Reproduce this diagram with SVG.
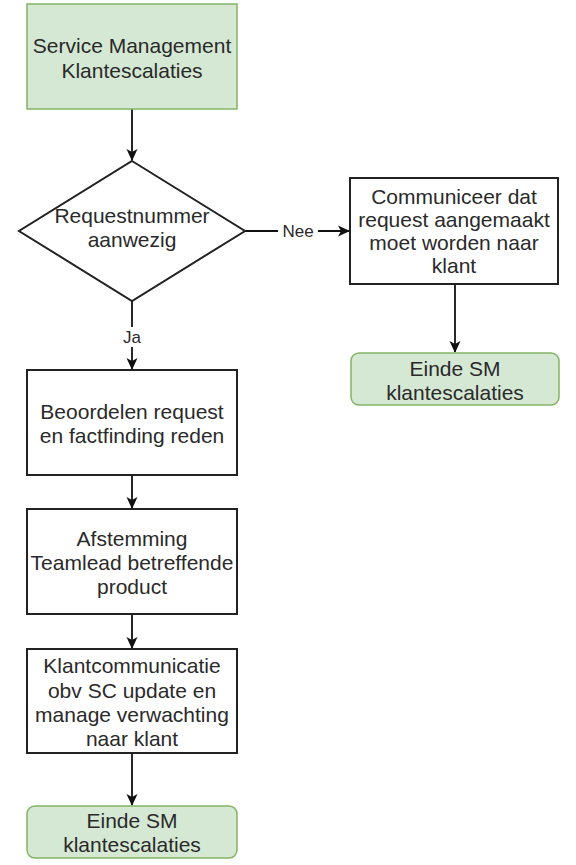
<svg xmlns="http://www.w3.org/2000/svg" width="576" height="865" viewBox="0 0 576 865">
  <defs>
    <marker id="arrow" viewBox="0 0 12 12" refX="11" refY="6" markerWidth="12" markerHeight="12" markerUnits="userSpaceOnUse" orient="auto">
      <path d="M0,0.5 L12,6 L0,11.5 L3,6 Z" fill="#111"/>
    </marker>
  </defs>
  <style>
    .proc { fill: #ffffff; stroke: #222; stroke-width: 2; }
    .term { fill: #d5e8d4; stroke: #82b366; stroke-width: 1.5; }
    .lbl { font-family: "Liberation Sans", Arial, sans-serif; font-size: 21px; fill: #2a2a2a; text-anchor: middle; dominant-baseline: central; }
    .elbl { font-family: "Liberation Sans", Arial, sans-serif; font-size: 17px; fill: #2a2a2a; text-anchor: middle; dominant-baseline: central; }
    .edge { fill: none; stroke: #111; stroke-width: 1.8; marker-end: url(#arrow); }
  </style>
  <rect width="576" height="865" fill="#ffffff"/>

  <g id="connectors">
    <path class="edge" d="M132,109 L132,160"/>
    <path class="edge" d="M245,231 L349,231"/>
    <path class="edge" d="M132,300 L132,369"/>
    <path class="edge" d="M455,284 L455,352"/>
    <path class="edge" d="M132,475 L132,508"/>
    <path class="edge" d="M132,614 L132,648"/>
    <path class="edge" d="M132,753 L132,805"/>
    <rect x="278" y="221" width="40" height="20" fill="#ffffff"/>
    <text class="elbl" x="298" y="231">Nee</text>
    <rect x="119" y="327" width="26" height="20" fill="#ffffff"/>
    <text class="elbl" x="132" y="337">Ja</text>
  </g>

  <g id="start">
    <rect class="term" x="27" y="4" width="210" height="105"/>
    <text class="lbl" x="132" y="45">Service Management</text>
    <text class="lbl" x="132" y="70">Klantescalaties</text>
  </g>

  <g id="decision">
    <path class="proc" d="M132,161 L245,231 L132,301 L19,231 Z"/>
    <text class="lbl" x="132" y="215">Requestnummer</text>
    <text class="lbl" x="132" y="239">aanwezig</text>
  </g>

  <g id="communicate">
    <rect class="proc" x="350" y="178" width="208" height="106"/>
    <text class="lbl" x="454" y="196">Communiceer dat</text>
    <text class="lbl" x="454" y="219">request aangemaakt</text>
    <text class="lbl" x="454" y="242">moet worden naar</text>
    <text class="lbl" x="454" y="265">klant</text>
  </g>

  <g id="end-right">
    <rect class="term" x="351" y="353" width="208" height="52" rx="8" ry="8"/>
    <text class="lbl" x="455" y="368">Einde SM</text>
    <text class="lbl" x="455" y="392">klantescalaties</text>
  </g>

  <g id="assess">
    <rect class="proc" x="27" y="370" width="210" height="105"/>
    <text class="lbl" x="132" y="411">Beoordelen request</text>
    <text class="lbl" x="132" y="435">en factfinding reden</text>
  </g>

  <g id="align">
    <rect class="proc" x="27" y="509" width="210" height="105"/>
    <text class="lbl" x="132" y="538">Afstemming</text>
    <text class="lbl" x="132" y="562">Teamlead betreffende</text>
    <text class="lbl" x="132" y="586">product</text>
  </g>

  <g id="client-comm">
    <rect class="proc" x="27" y="649" width="210" height="104"/>
    <text class="lbl" x="132" y="665">Klantcommunicatie</text>
    <text class="lbl" x="132" y="690">obv SC update en</text>
    <text class="lbl" x="132" y="714">manage verwachting</text>
    <text class="lbl" x="132" y="738">naar klant</text>
  </g>

  <g id="end-left">
    <rect class="term" x="27" y="806" width="210" height="52" rx="8" ry="8"/>
    <text class="lbl" x="132" y="820">Einde SM</text>
    <text class="lbl" x="132" y="844">klantescalaties</text>
  </g>
</svg>
